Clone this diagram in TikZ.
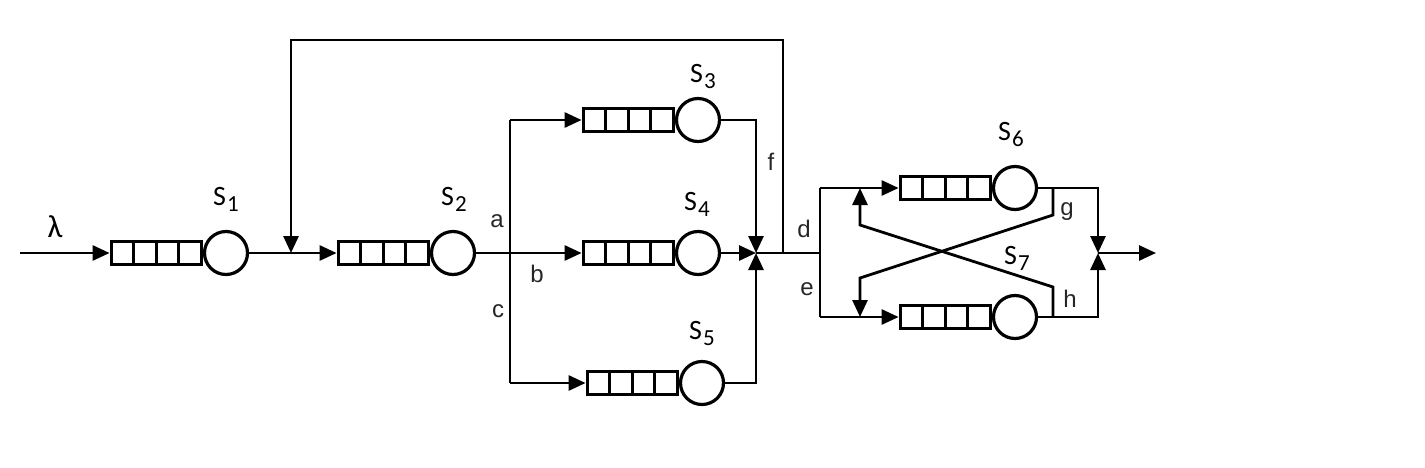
\documentclass[tikz,border=0pt]{standalone}
\usepackage{fontspec}
\setmainfont{Liberation Sans}
\newfontfamily\calfont{Carlito}
\usetikzlibrary{arrows.meta,calc}
\newcommand{\srvlabel}[1]{{\calfont\fontsize{28}{28}\selectfont S\kern1pt\raisebox{-6pt}{\fontsize{23}{23}\selectfont #1}}}
\begin{document}
\begin{tikzpicture}[x=1pt,y=-1pt,
  line width=2.8pt,
  conn/.style={line width=2.8pt},
  arr/.style={conn,-{Triangle[length=17pt,width=15pt]}},
  queue/.style={draw,line width=3.3pt,minimum width=90pt,minimum height=23pt,inner sep=0pt,anchor=east,
    path picture={\foreach \i in {1,2,3}
      \draw[line width=3.3pt] ($(path picture bounding box.south west)!\i/4!(path picture bounding box.south east)$) --
        ($(path picture bounding box.north west)!\i/4!(path picture bounding box.north east)$);}},
  server/.style={draw,circle,line width=3.2pt,minimum size=43pt,inner sep=0pt},
  lab/.style={anchor=base,inner sep=0pt,text=black!85,font=\fontsize{24}{24}\selectfont},
  slab/.style={anchor=base,inner sep=0pt}
]
\useasboundingbox (0,0) rectangle (1425,467);

% servers and queues
\node[server] (c1) at (226,253) {};
\node[queue] (q1) at (c1.west) {};
\node[server] (c2) at (453,253) {};
\node[queue] (q2) at (c2.west) {};
\node[server] (c3) at (698,120) {};
\node[queue] (q3) at (c3.west) {};
\node[server] (c4) at (698,253) {};
\node[queue] (q4) at (c4.west) {};
\node[server] (c5) at (702,383) {};
\node[queue] (q5) at (c5.west) {};
\node[server] (c6) at (1015,188) {};
\node[queue] (q6) at (c6.west) {};
\node[server] (c7) at (1015,317) {};
\node[queue] (q7) at (c7.west) {};

% coordinates
\coordinate (in) at (20,253);
\coordinate (fb) at (291,253);
\coordinate (fbtop1) at (783,40);
\coordinate (fbtop2) at (291,40);
\coordinate (fbbot) at (783,253);
\coordinate (j1) at (510,253);
\coordinate (j1t) at (510,120);
\coordinate (j1b) at (510,383);
\coordinate (m1) at (756,253);
\coordinate (m1t) at (756,120);
\coordinate (m1b) at (756,383);
\coordinate (j2) at (820,253);
\coordinate (j2t) at (820,188);
\coordinate (j2b) at (820,317);
\coordinate (m2) at (1098,253);
\coordinate (m2t) at (1098,188);
\coordinate (m2b) at (1098,317);
\coordinate (out) at (1156,253);
\coordinate (g1) at (1053,188);
\coordinate (g2) at (1053,215);
\coordinate (g3) at (860,278);
\coordinate (g4) at (860,317);
\coordinate (h1) at (1053,317);
\coordinate (h2) at (1053,287);
\coordinate (h3) at (860,225);
\coordinate (h4) at (860,188);

% connectors
\draw[arr] (in) -- (q1.west);
\draw[arr] (c1.east) -- (q2.west);
\draw[arr] (fbbot) -- (fbtop1) -- (fbtop2) -- (fb);
\draw[conn] (c2.east) -- (j1);
\draw[conn] (j1t) -- (j1b);
\draw[arr] (j1) -- (q4.west);
\draw[arr] (j1t) -- (q3.west);
\draw[arr] (j1b) -- (q5.west);
\draw[arr] (c3.east) -- (m1t) -- (m1);
\draw[arr] (c4.east) -- (m1);
\draw[arr] (c5.east) -- (m1b) -- (m1);
\draw[conn] (m1) -- (j2);
\draw[conn] (j2t) -- (j2b);
\draw[arr] (j2t) -- (q6.west);
\draw[arr] (j2b) -- (q7.west);
\draw[arr] (c6.east) -- (m2t) -- (m2);
\draw[arr] (c7.east) -- (m2b) -- (m2);
\draw[arr] (m2) -- (out);
\draw[arr] (g1) -- (g2) -- (g3) -- (g4);
\draw[arr] (h1) -- (h2) -- (h3) -- (h4);

% labels
\node[slab] (lam) at (55,237) {\calfont\fontsize{32}{32}\selectfont λ};
\node[slab] (s1) at (226,205) {\srvlabel{1}};
\node[slab] (s2) at (454,205) {\srvlabel{2}};
\node[slab] (s3) at (703,82) {\srvlabel{3}};
\node[slab] (s4) at (697,210) {\srvlabel{4}};
\node[slab] (s5) at (702,339) {\srvlabel{5}};
\node[slab] (s6) at (1011,140) {\srvlabel{6}};
\node[slab] (s7) at (1017,264) {\srvlabel{7}};
\node[lab] (la) at (497,227) {a};
\node[lab] (lb) at (537,282) {b};
\node[lab] (lc) at (498,317) {c};
\node[lab] (lf) at (771,170) {f};
\node[lab] (ld) at (804,237) {d};
\node[lab] (le) at (807,295) {e};
\node[lab] (lg) at (1067,215) {g};
\node[lab] (lh) at (1070,307) {h};
\end{tikzpicture}
\end{document}
